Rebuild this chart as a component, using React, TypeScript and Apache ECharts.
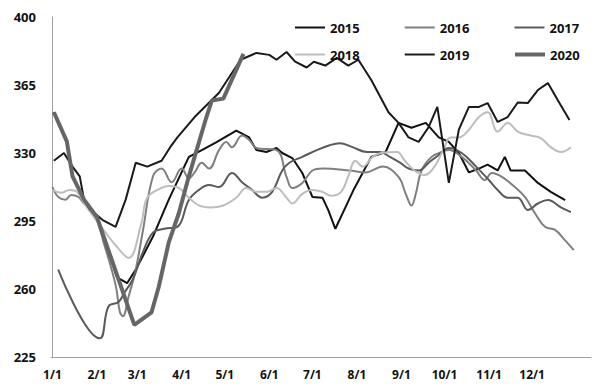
import React, { useEffect, useRef } from "react";
import * as echarts from "echarts";

// x = day of year (1/1 = 0)
const monthStarts = [0, 31, 59, 90, 120, 151, 181, 212, 243, 273, 304, 334];
const monthLabels = ["1/1", "2/1", "3/1", "4/1", "5/1", "6/1", "7/1", "8/1", "9/1", "10/1", "11/1", "12/1"];
const yTicks = [225, 260, 295, 330, 365, 400];

const names = ["2015", "2016", "2017", "2018", "2019", "2020"];

const s2015 = [[1,351],[10,336],[14,318],[22,306],[31,297],[45,266],[52,263],[58,270],[63,277],[70,287],[81,306],[95,328],[104,331.5],[114,335.5],[128,341.5],[137,338],[142,331.5],[149,330.5],[156,332.6],[160,330],[167,327.4],[174,319.7],[181,307.4],[188,307],[192,300.7],[197,291],[204,302],[210,311.5],[222,328],[232,330.5],[241,345.5],[250,343],[260,345.5],[269,338],[276,335.7],[283,330],[290,320],[297,322],[303,324],[310,321],[315,328],[319,321],[329,321],[338,314.6],[347,310],[357,305.8]];

const s2016 = [[0,312.5],[4,307.4],[9,306],[13,308.4],[18,307.4],[22,304],[29,299],[36,283],[44,262],[47,248],[49,246],[53,256],[58,270],[63,290],[70,318],[76,322],[83,315],[90,322],[95,317],[99,320],[104,325],[109,322],[116,331.5],[121,335.7],[125,333],[132,339],[137,336.7],[142,332.6],[156,331.5],[163,317.7],[167,312],[174,314.6],[181,321],[188,322],[207,321],[218,320],[230,323],[241,317.7],[246,309],[250,303],[253,309],[257,321],[264,328],[271,330.5],[276,331.5],[285,328],[295,321],[301,316],[306,319.7],[313,317.7],[322,312.5],[329,307.4],[336,299],[343,292],[350,290.4],[357,285],[363,280]];

const s2017 = [[4,270],[33,234.6],[39,251],[46,253.3],[50,258],[56,265],[63,279],[70,289],[78,291],[87,292],[95,305.8],[102,311],[109,313.5],[116,312.5],[125,319.7],[132,315],[139,311],[146,307],[153,310],[160,321],[165,325],[174,328],[184,331.5],[193,334],[200,335],[209,333],[219,330.5],[228,330.5],[235,328],[242,325],[248,322],[255,321],[262,325],[269,329],[276,332.6],[285,330],[295,323],[304,316],[310,311],[317,307],[324,307],[331,300.7],[338,304],[345,305.8],[354,302],[361,299.6]];

const s2018 = [[0,311],[6,309.5],[12,311],[17,310],[24,302],[36,290],[45,281.6],[53,276],[62,294],[66,307],[76,312],[81,313],[88,312],[95,307],[102,303],[110,302],[119,303],[128,307],[135,312],[142,310],[149,310],[156,312],[163,307],[167,304],[174,309],[181,311],[188,310],[194,308],[201,310],[206,318],[211,326],[216,323],[223,328],[229,330],[240,330.5],[245,326.4],[252,321],[259,318.7],[266,323],[273,333],[277,338],[283,338],[290,342],[297,348.5],[303,351],[310,341],[317,345.5],[324,341],[333,339],[340,337.7],[347,333],[354,330.5],[361,333]];

const s2019 = [[1,326],[8,330],[14,323],[19,318],[22,306],[26,301],[35,295.5],[44,292],[51,306],[58,325],[66,323],[76,326],[82,333],[87,338],[99,348.5],[116,361],[131,378],[142,381.5],[151,380.5],[156,378],[163,382],[169,377],[177,374],[182,377],[190,375],[198,379],[206,375],[213,378],[222,367.6],[234,351],[241,345.5],[248,338],[255,335.7],[262,343.4],[268,353.7],[276,314.6],[283,342],[290,353.7],[297,353.7],[303,355.7],[310,346],[317,348.5],[324,356],[331,355.7],[338,362.4],[345,366],[352,357],[360,347]];

const s2020 = [[1,351],[10,336],[14,318],[22,306],[31,297],[57,241.5],[69,248],[74,261],[81,284],[88,299],[95,318],[107,348],[111,357],[119,358],[133,381]];

const seriesData = [s2015, s2016, s2017, s2018, s2019, s2020];
const colors = ["#111111", "#7f7f7f", "#5a5a5a", "#bdbdbd", "#1a1a1a", "#666666"];
const widths = [2, 2, 2, 2, 2, 4];
const smooths = [false, 0.4, 0.4, 0.4, false, false];

export default function App() {
  const ref = useRef<HTMLDivElement>(null);
  useEffect(() => {
    if (!ref.current) return;
    const chart = echarts.init(ref.current, null, { renderer: "svg" });
    const font = "'Open Sans', sans-serif";
    const legendCommon = {
      icon: "rect",
      itemWidth: 30,
      itemGap: 45,
      textStyle: { fontFamily: font, fontSize: 13, fontWeight: "bold", color: "#111" },
      left: 290,
    };
    chart.setOption({
      animation: false,
      backgroundColor: "#ffffff",
      grid: { left: 51, right: 9, top: 17, bottom: 32 },
      legend: [
        { ...legendCommon, itemHeight: 2, top: 16, data: names.slice(0, 3) },
        { ...legendCommon, itemHeight: 2, top: 43, data: names.slice(3, 5) },
        { ...legendCommon, itemHeight: 4, top: 43, left: 510, data: names.slice(5) },
      ],
      xAxis: {
        type: "value",
        min: -1,
        max: 375,
        axisLine: { show: true, lineStyle: { color: "#a0a0a0", width: 1 } },
        axisTick: { show: false },
        splitLine: { show: false },
        axisLabel: {
          customValues: monthStarts,
          formatter: (v: number) => {
            const i = monthStarts.indexOf(v);
            return i >= 0 ? monthLabels[i] : "";
          },
          fontFamily: font,
          fontSize: 12,
          fontWeight: "bold",
          color: "#111",
          margin: 11,
        },
      },
      yAxis: {
        type: "value",
        min: yTicks[0],
        max: yTicks[yTicks.length - 1],
        interval: 35,
        axisLine: { show: true, lineStyle: { color: "#a0a0a0", width: 1 } },
        axisTick: { show: false },
        splitLine: { show: false },
        axisLabel: { fontFamily: font, fontSize: 13, fontWeight: "bold", color: "#111", margin: 15 },
      },
      series: names.map((n, i) => ({
        name: n,
        type: "line",
        data: seriesData[i],
        symbol: "none",
        smooth: smooths[i],
        lineStyle: { color: colors[i], width: widths[i] },
        itemStyle: { color: colors[i] },
      })),
    });
    return () => chart.dispose();
  }, []);
  return (
    <div
      ref={ref}
      style={{ position: "absolute", left: 0, top: 0, width: 600, height: 389 }}
    />
  );
}
